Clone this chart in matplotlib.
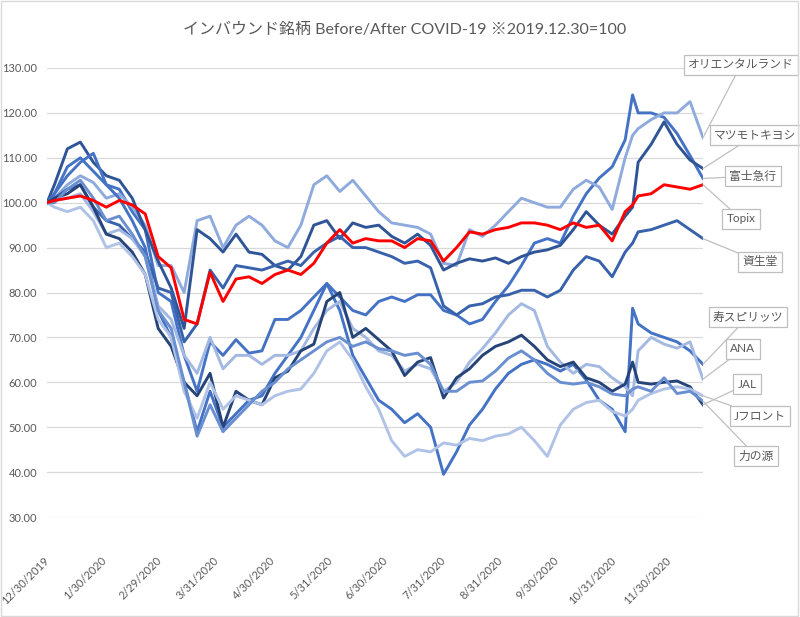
import matplotlib
matplotlib.use("Agg")
import matplotlib.pyplot as plt
import pandas as pd
from matplotlib.patches import Rectangle

plt.rcParams["font.family"] = ["Lato", "Noto Sans CJK JP", "DejaVu Sans"]

# weekly closes (Fridays) plus 11/10 to keep the vaccine-news spike, 2019-12-30 = 100
dates = pd.DatetimeIndex(["2019-12-30"]).append(
    pd.date_range("2020-01-03", "2020-12-18", freq="7D")).append(
    pd.DatetimeIndex(["2020-11-10"])).sort_values()

topix = [100, 100.5, 101, 101.5, 100.5, 99, 100.5, 99.5, 97.5, 88,
         85.5, 74, 73, 84.5, 78, 83, 83.5, 82, 84, 85,
         84, 86.5, 91, 94, 91, 92, 91.5, 91.5, 90, 92,
         91.5, 87, 90, 93.5, 93, 94, 94.5, 95.5, 95.5, 95,
         94, 95.5, 94.5, 95, 91.5, 98, 99.5, 101.5, 102, 104, 103.5,
         103, 104]
oriental = [100, 101, 104, 106, 104.5, 101, 102, 99, 95, 86,
            86, 80, 96, 97, 90, 95, 97, 95, 91.5, 90,
            95, 104, 106, 102.5, 105, 101.5, 98, 95.5, 95, 94.5,
            93, 86.5, 86, 94, 92.5, 95, 98, 101, 100, 99,
            99, 103, 105, 103.5, 98.5, 110, 115, 116.5, 118.5, 120, 120,
            122.5, 114.5]
matsukiyo = [100, 104, 112, 113.5, 109, 106, 105, 101, 94, 87,
             81, 72, 94, 92, 89, 93, 89, 88.5, 86, 85,
             88, 95, 96, 92, 95.5, 94.5, 95, 92.5, 91, 93,
             90.5, 85, 86.5, 87.5, 87, 87.7, 86.5, 88, 89, 89.5,
             90.5, 94, 98, 95, 93, 97, 99, 109, 113, 118, 113,
             109.5, 107.6]
fujikyu = [100, 102, 108, 110, 107, 104, 103, 98, 94, 80,
           78, 66, 58, 69, 66, 69.5, 66.5, 67, 74, 74,
           76, 79, 82, 79, 76, 75, 78, 79, 78, 79.5,
           79.5, 76, 75, 73, 74, 78, 81.5, 86, 91, 92,
           91, 97, 102, 105.5, 108, 114, 124, 120, 120, 119, 115.4,
           110.5, 105.4]
shiseido = [100, 101, 103, 104, 99, 96, 95, 92, 89, 81,
            80, 69, 73, 85, 81, 86, 85.5, 85, 86, 87,
            86, 89, 91, 92.5, 90, 90, 89, 88, 86.5, 87,
            85.5, 77, 75, 77, 77.5, 79, 79.5, 80.5, 80.5, 79,
            80.5, 85, 88, 87, 83.5, 89, 91, 93.5, 94, 95, 96,
            94, 92]
kotobuki = [100, 102, 106, 109, 111, 104, 101, 96, 90, 76,
            70, 60, 49, 58, 50, 53, 56, 57, 62, 66,
            70, 76, 82, 76, 66, 61, 56, 54, 51, 53,
            50, 39.5, 44.5, 50.5, 54, 58.5, 62, 64, 65, 64,
            62.5, 64, 60.5, 56, 54, 49, 76.5, 73, 71, 70, 69,
            67, 64]
ana = [100, 100.5, 101, 102, 98, 93, 94, 92, 88, 77,
       74, 66, 62, 70, 63, 66, 66, 64, 66, 66,
       67, 72, 76, 78, 72, 70, 67, 66, 62.5, 64,
       63, 58, 60, 64.5, 67.5, 71, 75, 77.5, 76, 68,
       64.5, 62, 64, 63.5, 61, 59, 57, 67, 70, 68.5, 67.6,
       69, 60.7]
jal = [100, 101, 102, 104, 99, 93, 92, 89, 84, 72,
       68, 60, 57, 62, 50, 58, 56, 55, 61, 62.5,
       67, 68.5, 78, 80, 70, 72, 69.5, 67, 61.5, 64.5,
       65.5, 56.5, 61, 63, 66, 68, 69, 70.5, 68, 65,
       63.5, 64.5, 61, 60, 58, 59.6, 64.5, 60, 59.6, 60, 60.3,
       59, 55]
jfront = [100, 99, 98, 99, 96, 90, 91, 88, 84, 74,
          70, 58, 52, 60, 54, 57, 56, 55, 57, 58,
          58.5, 62, 67, 69, 65, 59, 54, 47, 43.5, 45,
          44.5, 46.5, 46, 47.5, 47, 48, 48.5, 50, 47, 43.5,
          50.5, 54, 55.5, 56, 53.5, 52.5, 54, 56, 57.5, 58.5, 59,
          58.5, 57]
chikara = [100, 100, 103, 105, 101, 96, 97, 93, 88, 76,
           72, 60, 48, 55, 49, 52, 55, 58, 60, 63,
           65, 67, 69, 70, 68, 69, 67.5, 67, 66, 66.5,
           64, 58, 58, 60, 60.3, 62.5, 65.4, 67, 65, 62,
           60, 59.6, 60, 59, 57.4, 57, 58.5, 59, 58, 61, 57.5,
           58, 55.8]

tick_dates = pd.to_datetime(["2019-12-30", "2020-01-30", "2020-02-29", "2020-03-31",
                             "2020-04-30", "2020-05-31", "2020-06-30", "2020-07-31",
                             "2020-08-31", "2020-09-30", "2020-10-31", "2020-11-30"])
tick_labels = ["12/30/2019", "1/30/2020", "2/29/2020", "3/31/2020", "4/30/2020",
               "5/31/2020", "6/30/2020", "7/31/2020", "8/31/2020", "9/30/2020",
               "10/31/2020", "11/30/2020"]

# name, values, colour, label box centre (figure pixels from top-left)
series = [
    ("富士急行", fujikyu, "#4472C4", (753, 176)),
    ("オリエンタルランド", oriental, "#8FAADC", (741, 65)),
    ("マツモトキヨシ", matsukiyo, "#2F5597", (755, 135)),
    ("資生堂", shiseido, "#3862AC", (760, 262)),
    ("寿スピリッツ", kotobuki, "#4472C4", (748, 317)),
    ("ANA", ana, "#A3B9E2", (743, 349)),
    ("JAL", jal, "#264478", (747, 384)),
    ("Jフロント", jfront, "#B0C3E7", (760, 416)),
    ("力の源", chikara, "#6A8FD0", (756, 456)),
    ("Topix", topix, "#FF0000", (741, 219)),
]

W, H = 800, 617
fig = plt.figure(figsize=(W / 100, H / 100), dpi=100)
fig.patches.append(Rectangle((0.001, 0.001), 0.997, 0.997, transform=fig.transFigure,
                             fill=False, ec="#D9D9D9", lw=1))
ax = fig.add_axes([47 / W, 1 - 517 / H, 656 / W, 449 / H])

for name, vals, color, box in series:
    ax.plot(dates, vals, color=color, lw=2.1, solid_joinstyle="round")

for name, vals, color, box in series:
    ax.annotate(name, xy=(dates[-1], vals[-1]), xycoords="data",
                xytext=(box[0], H - box[1]), textcoords="figure pixels",
                ha="center", va="center", fontsize=8.5, color="#595959",
                bbox=dict(boxstyle="square,pad=0.35", fc="white", ec="#BFBFBF", lw=0.9),
                arrowprops=dict(arrowstyle="-", color="#BFBFBF", lw=0.9,
                                shrinkA=0, shrinkB=0),
                annotation_clip=False)

ax.set_xlim(dates[0], dates[-1])
ax.set_ylim(30, 130)
ax.set_yticks(range(30, 131, 10))
ax.set_yticklabels([f"{v:.2f}" for v in range(30, 131, 10)])
ax.set_xticks(tick_dates)
ax.set_xticklabels(tick_labels, rotation=45, ha="right", va="center",
                   rotation_mode="anchor")
ax.tick_params(axis="both", length=0, labelsize=8, labelcolor="#595959")
ax.tick_params(axis="y", pad=7)
ax.tick_params(axis="x", pad=30)
ax.grid(axis="y", color="#D9D9D9", lw=0.9)
ax.set_axisbelow(True)
for s in ax.spines.values():
    s.set_visible(False)

fig.text(405 / W, 1 - 30 / H, "インバウンド銘柄 Before/After COVID-19 ※2019.12.30=100",
         ha="center", va="center", fontsize=11.5, color="#595959")

fig.savefig("out.png", dpi=100)
plt.close(fig)
